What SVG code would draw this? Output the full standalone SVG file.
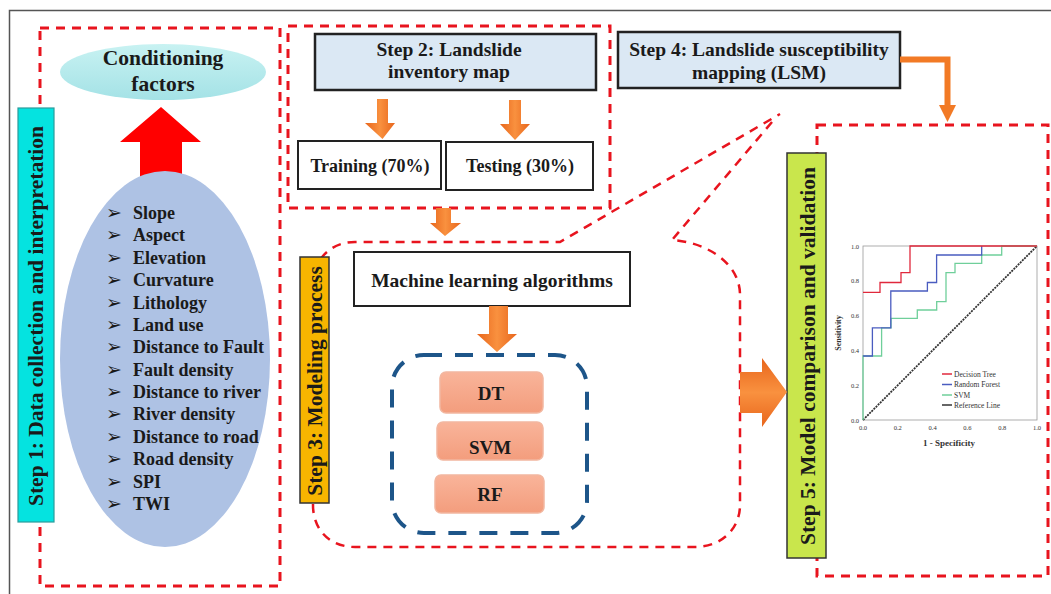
<svg xmlns="http://www.w3.org/2000/svg" width="1051" height="594" viewBox="0 0 1051 594">
<style>
.t{font-family:"Liberation Serif","Times New Roman",serif;font-weight:bold;fill:#1a1a1a}
.li{font-size:18px}
.bul{font-family:"DejaVu Sans",sans-serif;font-size:19px;fill:#1a1a1a}
.rd{fill:none;stroke:#e8141e;stroke-width:3;stroke-dasharray:9 7}
.box{stroke:#222;stroke-width:2.5}
.wb{fill:#fff;stroke:#222;stroke-width:2}
.alg{fill:url(#salmon);stroke:#f2b7a0;stroke-width:1.5}
.ct{font-family:"Liberation Serif",serif;fill:#333}
.lab{stroke:#333;stroke-width:1.5}
</style>
<defs>
<linearGradient id="og" x1="0" y1="0" x2="1" y2="0">
<stop offset="0" stop-color="#e8661c"/><stop offset="0.5" stop-color="#f9913f"/><stop offset="1" stop-color="#e8661c"/>
</linearGradient>
<linearGradient id="ogv" x1="0" y1="0" x2="0" y2="1">
<stop offset="0" stop-color="#e8661c"/><stop offset="0.5" stop-color="#f9913f"/><stop offset="1" stop-color="#e8661c"/>
</linearGradient>
<linearGradient id="salmon" x1="0" y1="0" x2="0" y2="1">
<stop offset="0" stop-color="#f9b49a"/><stop offset="1" stop-color="#f39d7d"/>
</linearGradient>
<linearGradient id="cyanE" x1="0" y1="0" x2="0" y2="1">
<stop offset="0" stop-color="#c8f2f2"/><stop offset="1" stop-color="#a4e2e6"/>
</linearGradient>
</defs>

<!-- outer frame -->
<path d="M9.5,594 V10.5 H1051" fill="none" stroke="#555" stroke-width="1.5"/>

<!-- Step 1 -->
<g id="step1">
<rect class="rd" x="40" y="28" width="240" height="558"/>
<rect x="18" y="108" width="36" height="414" fill="#05e3e0" stroke="#2a9c9c" stroke-width="1.2"/>
<text class="t" font-size="21.5" transform="translate(36,316) rotate(-90)" text-anchor="middle" dominant-baseline="central">Step 1: Data collection and interpretation</text>
</g>

<g id="conditioning">
<ellipse cx="163" cy="72" rx="103" ry="28" fill="url(#cyanE)"/>
<text class="t" font-size="21.5" x="163" y="65" text-anchor="middle">Conditioning</text>
<text class="t" font-size="21.5" x="163" y="90.5" text-anchor="middle">factors</text>
</g>

<g id="factors">
<polygon points="161,107 201,142 182,142 182,180 140,180 140,142 120,142" fill="#ff0000"/>
<ellipse cx="165" cy="359" rx="105" ry="188" fill="#aec2e4"/>
<g class="bul">
<text x="106" y="219">➢</text><text x="106" y="241.4">➢</text><text x="106" y="263.8">➢</text><text x="106" y="286.1">➢</text><text x="106" y="308.5">➢</text><text x="106" y="330.9">➢</text><text x="106" y="353.3">➢</text><text x="106" y="375.7">➢</text><text x="106" y="398">➢</text><text x="106" y="420.4">➢</text><text x="106" y="442.8">➢</text><text x="106" y="465.2">➢</text><text x="106" y="487.6">➢</text><text x="106" y="510">➢</text>
</g>
<g class="t li">
<text x="133" y="219">Slope</text>
<text x="133" y="241.4">Aspect</text>
<text x="133" y="263.8">Elevation</text>
<text x="133" y="286.1">Curvature</text>
<text x="133" y="308.5">Lithology</text>
<text x="133" y="330.9">Land use</text>
<text x="133" y="353.3">Distance to Fault</text>
<text x="133" y="375.7">Fault density</text>
<text x="133" y="398">Distance to river</text>
<text x="133" y="420.4">River density</text>
<text x="133" y="442.8">Distance to road</text>
<text x="133" y="465.2">Road density</text>
<text x="133" y="487.6">SPI</text>
<text x="133" y="510">TWI</text>
</g>
</g>

<!-- Step 2 -->
<g id="step2">
<rect class="rd" x="288" y="26" width="322" height="182"/>
<rect class="box" x="315" y="34" width="281" height="56" fill="#dbe8f4"/>
<text class="t" font-size="19.5" x="449" y="55.5" text-anchor="middle">Step 2: Landslide</text>
<text class="t" font-size="19.5" x="449" y="78" text-anchor="middle">inventory map</text>
</g>
<g id="training">
<rect class="wb" x="298" y="141" width="143" height="48"/>
<text class="t" font-size="18" x="370" y="172" text-anchor="middle">Training (70%)</text>
</g>
<g id="testing">
<rect class="wb" x="446" y="142" width="147" height="48"/>
<text class="t" font-size="18" x="520" y="172" text-anchor="middle">Testing (30%)</text>
</g>

<!-- Step 4 -->
<g id="step4">
<rect class="box" x="618" y="32" width="282" height="56" fill="#dbe8f4"/>
<text class="t" font-size="19.5" x="759" y="56" text-anchor="middle">Step 4: Landslide susceptibility</text>
<text class="t" font-size="19.5" x="759" y="79" text-anchor="middle">mapping (LSM)</text>
</g>

<!-- Step 3 -->
<g id="step3">
<path d="M772,122 L672,240 C705,242 740,262 740,295 V505 C740,530 720,547 695,547 H355 C330,547 313,530 313,505 V285 C313,260 330,242 355,242 H560 L780,114" fill="none" stroke="#e8141e" stroke-width="2.5" stroke-dasharray="9 7"/>
<rect class="lab" x="300" y="257" width="29" height="246" fill="#f7b500"/>
<text class="t" font-size="21.5" transform="translate(315,381) rotate(-90)" text-anchor="middle" dominant-baseline="central">Step 3: Modeling process</text>
</g>
<g id="ml">
<rect class="wb" x="354" y="252" width="276" height="54"/>
<text class="t" font-size="19.5" x="492" y="287" text-anchor="middle">Machine learning algorithms</text>
</g>
<g id="algorithms">
<rect x="392" y="355" width="195" height="178" rx="32" fill="none" stroke="#1d5589" stroke-width="4" stroke-dasharray="18 13"/>
</g>
<g id="dt">
<rect class="alg" x="440" y="372" width="103" height="41" rx="6"/>
<text class="t" font-size="19" x="491" y="400" text-anchor="middle">DT</text>
</g>
<g id="svm">
<rect class="alg" x="437" y="422" width="106" height="38" rx="6"/>
<text class="t" font-size="19" x="490" y="454" text-anchor="middle">SVM</text>
</g>
<g id="rf">
<rect class="alg" x="435" y="475" width="109" height="38" rx="6"/>
<text class="t" font-size="19" x="490" y="501" text-anchor="middle">RF</text>
</g>

<!-- Step 5 -->
<g id="step5">
<rect class="rd" x="817" y="125" width="231" height="451"/>
<rect class="lab" x="787" y="153" width="39" height="405" fill="#c9e64c"/>
<text class="t" font-size="21.5" transform="translate(808,356) rotate(-90)" text-anchor="middle" dominant-baseline="central">Step 5: Model comparison and validation</text>
</g>

<g id="roc">
<rect x="863" y="246" width="174" height="174" fill="#fff" stroke="#999" stroke-width="0.8"/>
<path d="M863,420 L1037,246" stroke="#333" stroke-width="1.8" stroke-dasharray="2 1"/>
<path d="M863,420 V356 H881.6 V327.8 H891 V318.3 H917.3 V310 H936.7 V301.7 H946 V272.7 H955 V263.3 H981.7 V255 H1001.7 V246 H1037" fill="none" stroke="#6fcf9a" stroke-width="1.3"/>
<path d="M863,356 H872.4 V327.8 H890.8 V291 H927.4 V282.5 H936.6 V255 H981.7 V246" fill="none" stroke="#4a5cc0" stroke-width="1.3"/>
<path d="M863,292.3 H880 V282.5 H901 V272.6 H910 V246 H1037" fill="none" stroke="#e0283c" stroke-width="1.3"/>
<g class="ct" font-size="6.5" text-anchor="end">
<text x="859" y="248.5">1.0</text><text x="859" y="283.3">0.8</text><text x="859" y="318">0.6</text><text x="859" y="353">0.4</text><text x="859" y="387.7">0.2</text><text x="859" y="422.5">0.0</text>
</g>
<g class="ct" font-size="6.5" text-anchor="middle">
<text x="863" y="430">0.0</text><text x="897.8" y="430">0.2</text><text x="932.6" y="430">0.4</text><text x="967.4" y="430">0.6</text><text x="1002.2" y="430">0.8</text><text x="1037" y="430">1.0</text>
</g>
<text class="ct" font-size="8" font-weight="bold" transform="translate(841,333) rotate(-90)" text-anchor="middle">Sensitivity</text>
<text class="ct" font-size="9" font-weight="bold" x="949" y="446" text-anchor="middle">1 - Specificity</text>
<g stroke-width="1.5">
<line x1="942" y1="374" x2="952" y2="374" stroke="#e0283c"/>
<line x1="942" y1="384.5" x2="952" y2="384.5" stroke="#4a5cc0"/>
<line x1="942" y1="395" x2="952" y2="395" stroke="#6fcf9a"/>
<line x1="942" y1="405" x2="952" y2="405" stroke="#333"/>
</g>
<g class="ct" font-size="7.5">
<text x="954" y="376.5">Decision Tree</text>
<text x="954" y="387">Random Forest</text>
<text x="954" y="397.5">SVM</text>
<text x="954" y="407.5">Reference Line</text>
</g>
</g>

<!-- connectors -->
<g id="connectors">
<polygon points="377,99 388,99 388,123 395,123 382.5,139 365,123 377,123" fill="url(#og)"/>
<polygon points="509,100 521,100 521,124 530,124 515,140 500,124 509,124" fill="url(#og)"/>
<polygon points="436,208 451,208 451,223 461,223 445,236 430,223 436,223" fill="url(#og)"/>
<polygon points="489,306 508,306 508,334 517,334 497,352 477,334 489,334" fill="url(#og)"/>
<polygon points="740,372 762,372 762,358 787,392 762,427 762,413 740,413" fill="url(#ogv)"/>
<path d="M900,59.5 H947.5 V106" fill="none" stroke="#f27a25" stroke-width="6"/>
<polygon points="939,105 956,105 947.5,122" fill="#f27a25"/>
</g>
</svg>
